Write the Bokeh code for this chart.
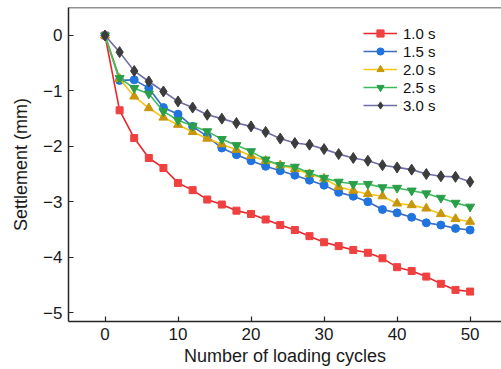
from bokeh.plotting import figure
from bokeh.models import Range1d, FixedTicker, Span, Legend
from bokeh.embed import file_html
from bokeh.resources import INLINE

cycles = list(range(0, 52, 2))
s10 = [0, -1.35, -1.85, -2.21, -2.39, -2.66, -2.79, -2.96, -3.05, -3.16, -3.22, -3.32, -3.42,
       -3.51, -3.62, -3.73, -3.80, -3.87, -3.92, -4.02, -4.18, -4.25, -4.35, -4.48, -4.59, -4.62]
s15 = [0, -0.81, -0.80, -0.95, -1.30, -1.42, -1.64, -1.82, -2.03, -2.15, -2.26, -2.36, -2.44,
       -2.52, -2.61, -2.70, -2.83, -2.90, -3.00, -3.14, -3.20, -3.28, -3.38, -3.42, -3.48, -3.51]
s20 = [0, -0.78, -1.10, -1.31, -1.48, -1.61, -1.74, -1.86, -1.96, -2.06, -2.17, -2.26, -2.34,
       -2.41, -2.50, -2.58, -2.73, -2.80, -2.86, -2.90, -3.03, -3.06, -3.12, -3.22, -3.31, -3.36]
s25 = [0, -0.77, -0.95, -1.05, -1.37, -1.53, -1.63, -1.73, -1.87, -1.98, -2.09, -2.24, -2.34,
       -2.37, -2.48, -2.57, -2.64, -2.68, -2.68, -2.74, -2.75, -2.80, -2.85, -2.93, -3.02, -3.09]
s30 = [0, -0.30, -0.64, -0.83, -1.01, -1.19, -1.30, -1.43, -1.50, -1.58, -1.64, -1.74, -1.86,
       -1.94, -1.97, -2.05, -2.14, -2.21, -2.26, -2.34, -2.38, -2.42, -2.50, -2.54, -2.55, -2.64]
labels = ["1.0 s", "1.5 s", "2.0 s", "2.5 s", "3.0 s"]
x_ticks = [0, 10, 20, 30, 40, 50]
y_ticks = [0, -1, -2, -3, -4, -5]
y_tick_labels = ["0", "\u22121", "\u22122", "\u22123", "\u22124", "\u22125"]

FONT = "Liberation Sans"
AX = "#262626"

p = figure(width=501, height=369, output_backend="svg", toolbar_location=None,
           x_range=Range1d(-5, 54.3), y_range=Range1d(-5.16, 0.505),
           min_border_left=68, min_border_right=0, min_border_top=7, min_border_bottom=48)
p.outline_line_color = None
p.grid.visible = False
p.background_fill_color = "white"
p.border_fill_color = "white"

series = [
    (s10, "#e8262b", "#f04040", "square", 7),
    (s15, "#3a6cc0", "#1f74e0", "circle", 8),
    (s20, "#f5c518", "#c8960a", "triangle", 9),
    (s25, "#3cbb5e", "#2a9e48", "inverted_triangle", 9),
    (s30, "#6e6ea8", "#3c3c3c", "diamond", 11),
]
items = []
for (vals, lc, mc, mk, sz), lab in zip(series, labels):
    r1 = p.line(cycles, vals, line_color=lc, line_width=1.6)
    r2 = p.scatter(cycles, vals, marker=mk, size=sz, fill_color=mc, line_color=mc)
    items.append((lab, [r1, r2]))

leg = Legend(items=items, location=(295, 207))
leg.glyph_width = 34
leg.glyph_height = 18
leg.label_height = 18
leg.spacing = 0
leg.padding = 0
leg.margin = 0
leg.label_standoff = 6
leg.border_line_color = None
leg.background_fill_alpha = 0
leg.label_text_font = FONT
leg.label_text_font_size = "15px"
leg.label_text_color = "#111111"
p.add_layout(leg, "center")

for ax in (p.xaxis[0], p.yaxis[0]):
    ax.axis_line_color = AX
    ax.axis_line_width = 1.5
    ax.major_tick_line_color = AX
    ax.major_tick_line_width = 1.2
    ax.major_tick_in = 5
    ax.major_tick_out = 0
    ax.minor_tick_line_color = None
    ax.major_label_text_font = FONT
    ax.major_label_text_font_size = "17px"
    ax.major_label_text_color = "#1a1a1a"
    ax.axis_label_text_font = FONT
    ax.axis_label_text_font_size = "18px"
    ax.axis_label_text_font_style = "normal"
    ax.axis_label_text_color = "#1a1a1a"

p.xaxis[0].ticker = FixedTicker(ticks=x_ticks)
p.yaxis[0].ticker = FixedTicker(ticks=y_ticks)
p.yaxis[0].major_label_overrides = {t: s for t, s in zip(y_ticks, y_tick_labels)}
p.xaxis[0].axis_label = "Number of loading cycles"
p.yaxis[0].axis_label = "Settlement (mm)"
p.xaxis[0].major_label_standoff = 6
p.xaxis[0].axis_label_standoff = 3
p.yaxis[0].major_label_standoff = 6
p.yaxis[0].axis_label_standoff = 9

top = Span(location=0.505, dimension="width", line_color=AX, line_width=1.5)
p.add_layout(top)

open("out.html", "w").write(file_html(p, INLINE))
